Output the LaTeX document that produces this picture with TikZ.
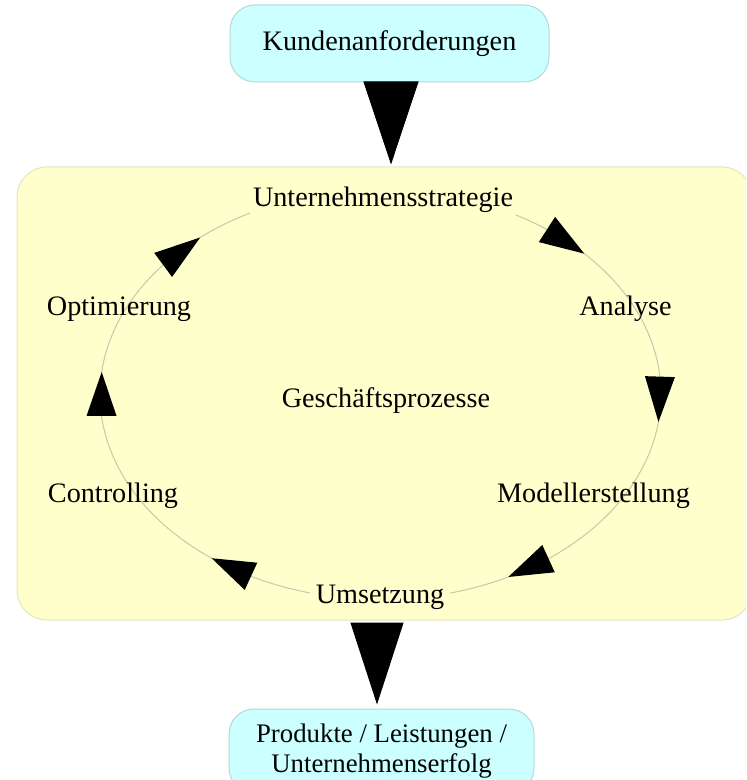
\documentclass[tikz,border=0pt]{standalone}
\usepackage{fontspec}
\setmainfont{Liberation Serif}
\usetikzlibrary{arrows.meta,calc}
\definecolor{boxyellow}{RGB}{255,255,204}
\definecolor{boxcyan}{RGB}{204,255,255}
\definecolor{yborder}{RGB}{228,228,190}
\definecolor{cborder}{RGB}{180,215,215}
\definecolor{cycgray}{RGB}{200,200,170}
\begin{document}
\begin{tikzpicture}[x=0.5pt,y=-0.5pt,
  txt/.style={font=\fontsize{14.1pt}{15pt}\selectfont},
  cbox/.style={txt, draw=cborder, fill=boxcyan, line width=0.5pt, rounded corners=12.5pt, inner sep=0pt, align=center},
  ybox/.style={draw=yborder, fill=boxyellow, line width=0.5pt, rounded corners=15pt, inner sep=0pt},
  lbl/.style={txt, inner sep=0pt, anchor=base},
  lblmask/.style={lbl, fill=boxyellow, inner xsep=1.5pt, inner ysep=1pt},
  cycline/.style={draw=cycgray, line width=0.5pt},
  headA/.style={-{Triangle[length=41.5pt,width=27.5pt]}, line width=0.5pt},
  headB/.style={-{Triangle[length=41pt,width=26.5pt]}, line width=0.5pt},
  cychead/.style={fill=black}
]
\useasboundingbox (0,0) rectangle (746,780);
\clip (0,0) rectangle (746,780);

% boxes
\node[cbox, minimum width=159.5pt, minimum height=38.5pt] (kunden) at (389.5,43.5) {Kundenanforderungen};
\node[ybox, minimum width=367.5pt, minimum height=226.5pt] (proc) at (384.5,393.5) {};
\node[cbox, font=\fontsize{13.4pt}{15pt}\selectfont, minimum width=152.5pt, minimum height=42pt] (prod) at (381.5,751) {Produkte / Leistungen /\\Unternehmenserfolg};

% big arrows
\coordinate (ta) at ($(kunden.south)+(1.5,0)$);
\draw[headA, shorten >=1pt] (ta) -- (ta |- proc.north);
\coordinate (tb) at ($(prod.north)+(-4.5,0)$);
\draw[headB, shorten <=1.5pt, shorten >=2pt] (tb |- proc.south) -- (tb);

% points of the cycle on the ellipse
\coordinate (ctr) at (380.5,394.5);
\coordinate (eS) at ($(ctr)+({280.5*cos(-90)},{205*sin(-90)})$);
\coordinate (eA) at ($(ctr)+({280.5*cos(-26)},{205*sin(-26)})$);
\coordinate (eM) at ($(ctr)+({280.5*cos(29)},{205*sin(29)})$);
\coordinate (eU) at ($(ctr)+({280.5*cos(90)},{205*sin(90)})$);
\coordinate (eC) at ($(ctr)+({280.5*cos(151)},{205*sin(151)})$);
\coordinate (eO) at ($(ctr)+({280.5*cos(206)},{205*sin(206)})$);

% cycle connectors
\draw[cycline] (eS) arc[start angle=90, end angle=26, x radius=140.25pt, y radius=102.5pt];
\draw[cycline] (eA) arc[start angle=26, end angle=-29, x radius=140.25pt, y radius=102.5pt];
\draw[cycline] (eM) arc[start angle=-29, end angle=-90, x radius=140.25pt, y radius=102.5pt];
\draw[cycline] (eU) arc[start angle=-90, end angle=-151, x radius=140.25pt, y radius=102.5pt];
\draw[cycline] (eC) arc[start angle=-151, end angle=-206, x radius=140.25pt, y radius=102.5pt];
\draw[cycline] (eO) arc[start angle=-206, end angle=-270, x radius=140.25pt, y radius=102.5pt];

% arrowheads on the cycle
\foreach \i/\b/\t in {1/-53.6/-43.4, 2/-5/7.7, 3/53.2/62.9, 4/117.5/127, 5/174/186.3, 6/219.2/230}{
  \coordinate (hb\i) at ($(ctr)+({280.5*cos(\b)},{205*sin(\b)})$);
  \coordinate (ht\i) at ($(ctr)+({280.5*cos(\t)},{205*sin(\t)})$);
  \fill[cychead] (ht\i) -- ($(hb\i)!7.5pt!90:(ht\i)$) -- ($(hb\i)!7.5pt!-90:(ht\i)$) -- cycle;
}

% labels
\node[lblmask] (strat) at (383,207) {Unternehmensstrategie};
\node[lbl] (analyse) at (625.5,315) {Analyse};
\node[lbl] (modell) at (593.5,502) {Modellerstellung};
\node[lblmask, inner xsep=3pt] (umsetz) at (380,603) {Umsetzung};
\node[lbl] (control) at (113,502) {Controlling};
\node[lbl] (optim) at (119,315) {Optimierung};
\node[lbl] (gp) at (386,407) {Geschäftsprozesse};
\end{tikzpicture}
\end{document}
